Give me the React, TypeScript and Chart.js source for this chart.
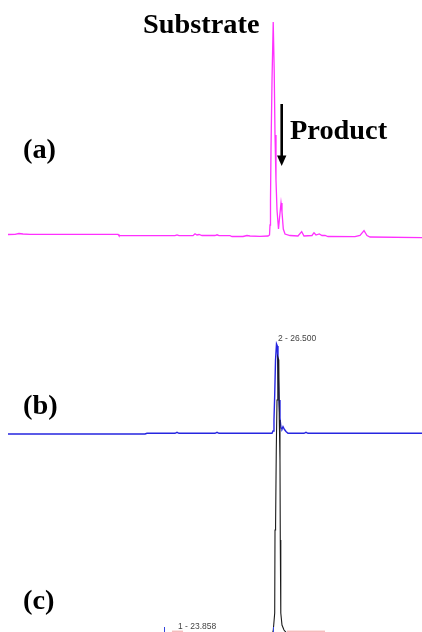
import React, { useEffect, useRef } from "react";
import { Chart, registerables } from "chart.js";

Chart.register(...registerables);

// Retention time axis (min)
const timeMin = 20.0;
const timeMax = 29.913;

// Trace (a) – substrate + product chromatogram
const timeA = [
  20.188, 20.352, 20.446, 20.54, 20.705, 22.772, 22.795, 24.111, 24.158, 24.205,
  24.534, 24.581, 24.628, 24.675, 24.745, 25.05, 25.098, 25.145, 25.403, 25.45,
  25.708, 25.802, 25.873, 26.108, 26.296, 26.331, 26.343, 26.354, 26.366, 26.39,
  26.418, 26.441, 26.46, 26.483, 26.507, 26.542, 26.566, 26.601, 26.624, 26.655,
  26.695, 26.812, 27.0, 27.087, 27.141, 27.329, 27.376, 27.423, 27.5, 27.564,
  27.635, 27.705, 28.339, 28.457, 28.551, 28.621, 28.692, 29.913,
];
const signalA = [
  0.5, 0.7, 1.5, 1.0, 0.7, 0.7, -0.7, -0.7, 0, -0.7,
  -0.7, 1.2, 0, 0.5, -0.5, -0.5, 0.2, -0.7, -0.7, -1.5,
  -1.5, -0.5, -1, -1.3, -1, 0, 10, 35, 85, 155,
  213, 165, 100, 55, 25, 6, 17, 32, 23, 6,
  1, -0.5, -1, 3.3, -1, -0.5, 2.3, 0, 1, -0.5,
  -0.5, -1.5, -1.7, -0.5, 4.3, -0.5, -2, -2.7,
];

// Trace (b) – peak 2 at 26.500 min
const timeB = [
  20.188, 23.406, 23.453, 24.111, 24.158, 24.205, 25.05, 25.098, 25.145, 26.39,
  26.413, 26.436, 26.453, 26.472, 26.495, 26.514, 26.53, 26.554, 26.577, 26.601,
  26.624, 26.648, 26.683, 26.718, 26.765, 27.141, 27.188, 27.235, 29.913,
];
const signalB = [
  -0.5, -0.5, 0.2, 0.2, 1.2, 0.2, 0.2, 1.2, 0.2, 0.2,
  2.5, 13.5, 38.5, 73.5, 89.5, 87.5, 65.5, 33.5, 15.5, 5.5,
  4.5, 6.8, 4, 2, 0.2, 0.2, 1.2, 0.2, 0.2,
];

// Trace (c) – reference standard
const timeC = [
  20.188, 26.401, 26.42, 26.453, 26.46, 26.464, 26.483, 26.49, 26.507, 26.526,
  26.549, 26.561, 26.577, 26.584, 26.596, 26.624, 26.671, 26.742, 29.913,
];
const signalC = [
  0, 0, 3.5, 20.5, 103.5, 103.5, 108.5, 183.5, 233.5, 276.5,
  273.5, 213.5, 173.5, 93.5, 20.5, 8.5, 3.5, 0, 0,
];

// Vertical stacking offsets for the three traces
const offsetA = 397;
const offsetB = 198.5;
const offsetC = -1.5;

const peakLabelB = "2 - 26.500";
const peakLabelC = "1 - 23.858";
const peakTimeC = 23.853;
const peakTimeC2 = 26.413;

const toPoints = (t: number[], v: number[], off: number) =>
  t.map((x, i) => ({ x, y: v[i] + off }));

const annotations = {
  id: "annotations",
  afterDatasetsDraw(chart: any) {
    const ctx = chart.ctx as CanvasRenderingContext2D;
    const xs = chart.scales.x;
    const ys = chart.scales.y;
    ctx.save();

    // integration marks on trace (c)
    ctx.strokeStyle = "#3344dd";
    ctx.lineWidth = 1;
    [peakTimeC, peakTimeC2].forEach((t) => {
      const px = Math.round(xs.getPixelForValue(t)) + 0.5;
      ctx.beginPath();
      ctx.moveTo(px, ys.getPixelForValue(5));
      ctx.lineTo(px, ys.getPixelForValue(0));
      ctx.stroke();
    });
    ctx.strokeStyle = "#f0a0a0";
    ctx.beginPath();
    ctx.moveTo(xs.getPixelForValue(26.742), ys.getPixelForValue(0.8));
    ctx.lineTo(xs.getPixelForValue(27.635), ys.getPixelForValue(0.8));
    ctx.moveTo(xs.getPixelForValue(24.04), ys.getPixelForValue(0.8));
    ctx.lineTo(xs.getPixelForValue(24.3), ys.getPixelForValue(0.8));
    ctx.stroke();

    // small peak labels
    ctx.fillStyle = "#444";
    ctx.font = "8.5px 'Liberation Sans', Arial, sans-serif";
    ctx.textBaseline = "alphabetic";
    ctx.textAlign = "left";
    ctx.fillText(peakLabelB, 278, 341);
    ctx.fillText(peakLabelC, 178, 629);

    // bold serif labels
    ctx.fillStyle = "#000";
    ctx.font = "bold 27px 'Liberation Serif', 'Times New Roman', serif";
    const bold = (txt: string, x: number, y: number) => {
      ctx.save();
      ctx.translate(x, y);
      ctx.scale(1.05, 1);
      ctx.fillText(txt, 0, 0);
      ctx.restore();
    };
    bold("Substrate", 143, 33);
    bold("Product", 290, 139);
    bold("(a)", 23, 158);
    bold("(b)", 23, 414);
    bold("(c)", 23, 609);

    // arrow
    const ax = 281.7;
    ctx.strokeStyle = "#000";
    ctx.lineWidth = 2.6;
    ctx.beginPath();
    ctx.moveTo(ax, 104);
    ctx.lineTo(ax, 157);
    ctx.stroke();
    ctx.beginPath();
    ctx.moveTo(ax - 4.7, 155.5);
    ctx.lineTo(ax + 4.7, 155.5);
    ctx.lineTo(ax, 166);
    ctx.closePath();
    ctx.fill();

    ctx.restore();
  },
};

export default function App() {
  const ref = useRef<HTMLCanvasElement | null>(null);

  useEffect(() => {
    document.body.style.margin = "0";
    if (!ref.current) return;
    const chart = new Chart(ref.current, {
      type: "line",
      data: {
        datasets: [
          {
            label: "(c)",
            data: toPoints(timeC, signalC, offsetC),
            borderColor: "#1a1a1a",
            borderWidth: 1.1,
            pointRadius: 0,
            tension: 0,
          },
          {
            label: "(b)",
            data: toPoints(timeB, signalB, offsetB),
            borderColor: "#2626e0",
            borderWidth: 1.4,
            pointRadius: 0,
            tension: 0,
          },
          {
            label: "(a)",
            data: toPoints(timeA, signalA, offsetA),
            borderColor: "#ff30ff",
            borderWidth: 1.3,
            pointRadius: 0,
            tension: 0,
          },
        ],
      },
      options: {
        responsive: false,
        animation: false,
        devicePixelRatio: 1,
        layout: { padding: 0 },
        plugins: {
          legend: { display: false },
          tooltip: { enabled: false },
          title: { display: false },
        },
        scales: {
          x: { type: "linear", min: timeMin, max: timeMax, display: false },
          y: { type: "linear", min: 0, max: 632, display: false },
        },
      },
      plugins: [annotations],
    });
    return () => chart.destroy();
  }, []);

  return (
    <div style={{ width: 422, height: 632, background: "#fff" }}>
      <canvas ref={ref} width={422} height={632} style={{ display: "block" }} />
    </div>
  );
}
